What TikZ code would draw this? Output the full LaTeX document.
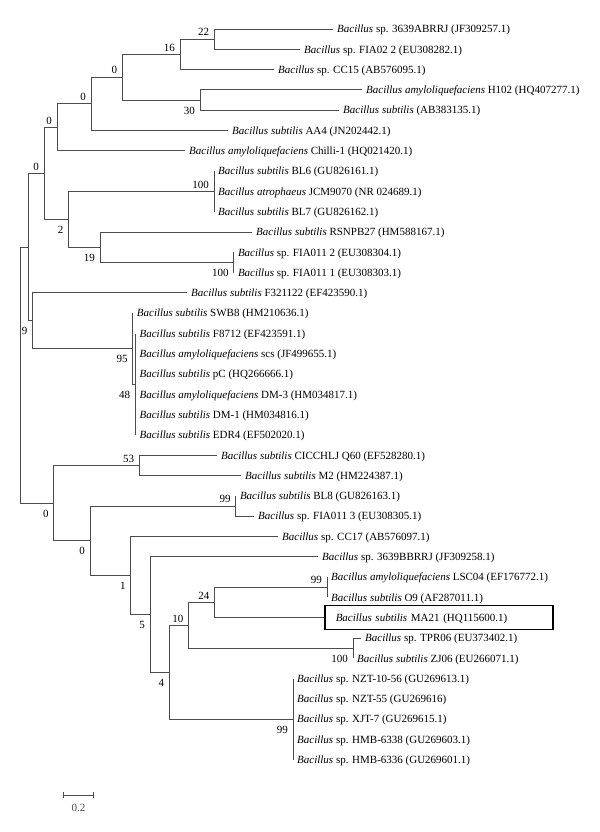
\documentclass[tikz,border=0pt]{standalone}
\usepackage{fontspec}
\setmainfont{Liberation Serif}
\usetikzlibrary{arrows.meta,positioning}

\begin{document}
\begin{tikzpicture}[x=1pt,y=-20.3pt,
    branch/.style={black!70,line width=0.9pt},
    leaf/.style={anchor=west,inner xsep=4pt,inner ysep=0pt,
      text height=9pt,text depth=1.5pt,font=\fontsize{11}{13}\selectfont},
    hilite/.style={leaf,draw=black,line width=1.5pt,inner xsep=11pt,
      inner ysep=6.75pt,text width=206pt,align=left},
    bsup/.style={anchor=south east,inner sep=1pt,xshift=-4pt,yshift=2pt,
      font=\fontsize{11}{13}\selectfont},
    bsdown/.style={anchor=north east,inner sep=1pt,xshift=-4pt,yshift=-5.5pt,
      font=\fontsize{11}{13}\selectfont}]
    \useasboundingbox (0,-0.4286) rectangle (600,40.557);

    % --- leaves: x of the branch end, row ---
    \foreach \i/\xx/\t in {
      1/333/{\textit{Bacillus} sp. 3639ABRRJ (JF309257.1)},
      2/300/{\textit{Bacillus} sp. FIA02 2 (EU308282.1)},
      3/274/{\textit{Bacillus} sp. CC15 (AB576095.1)},
      4/362/{\textit{Bacillus amyloliquefaciens} H102 (HQ407277.1)},
      5/339/{\textit{Bacillus subtilis} (AB383135.1)},
      6/228/{\textit{Bacillus subtilis} AA4 (JN202442.1)},
      7/185/{\textit{Bacillus amyloliquefaciens} Chilli-1 (HQ021420.1)},
      8/214/{\textit{Bacillus subtilis} BL6 (GU826161.1)},
      9/214/{\textit{Bacillus atrophaeus} JCM9070 (NR 024689.1)},
      10/214/{\textit{Bacillus subtilis} BL7 (GU826162.1)},
      11/252/{\textit{Bacillus subtilis} RSNPB27 (HM588167.1)},
      12/233.8/{\textit{Bacillus} sp. FIA011 2 (EU308304.1)},
      13/233.8/{\textit{Bacillus} sp. FIA011 1 (EU308303.1)},
      14/187/{\textit{Bacillus subtilis} F321122 (EF423590.1)},
      15/132.7/{\textit{Bacillus subtilis} SWB8 (HM210636.1)},
      16/135.4/{\textit{Bacillus subtilis} F8712 (EF423591.1)},
      17/135.4/{\textit{Bacillus amyloliquefaciens} scs (JF499655.1)},
      18/135.4/{\textit{Bacillus subtilis} pC (HQ266666.1)},
      19/135.4/{\textit{Bacillus amyloliquefaciens} DM-3 (HM034817.1)},
      20/135.4/{\textit{Bacillus subtilis} DM-1 (HM034816.1)},
      21/135.4/{\textit{Bacillus subtilis} EDR4 (EF502020.1)},
      22/217/{\textit{Bacillus subtilis} CICCHLJ Q60 (EF528280.1)},
      23/241/{\textit{Bacillus subtilis} M2 (HM224387.1)},
      24/235.8/{\textit{Bacillus subtilis} BL8 (GU826163.1)},
      25/254/{\textit{Bacillus} sp. FIA011 3 (EU308305.1)},
      26/278/{\textit{Bacillus} sp. CC17 (AB576097.1)},
      27/318/{\textit{Bacillus} sp. 3639BBRRJ (JF309258.1)},
      28/327/{\textit{Bacillus amyloliquefaciens} LSC04 (EF176772.1)},
      29/327/{\textit{Bacillus subtilis} O9 (AF287011.1)},
      31/361/{\textit{Bacillus} sp. TPR06 (EU373402.1)},
      32/353/{\textit{Bacillus subtilis} ZJ06 (EU266071.1)},
      33/293/{\textit{Bacillus} sp. NZT-10-56 (GU269613.1)},
      34/293/{\textit{Bacillus} sp. NZT-55 (GU269616)},
      35/293/{\textit{Bacillus} sp. XJT-7 (GU269615.1)},
      36/293/{\textit{Bacillus} sp. HMB-6338 (GU269603.1)},
      37/293/{\textit{Bacillus} sp. HMB-6336 (GU269601.1)}}
      \node[leaf] (l\i) at (\xx,\i) {\t};
    % the strain of this study
    \node[hilite] (l30) at (324,30) {\textit{Bacillus subtilis} MA21 (HQ115600.1)};

    % --- inner nodes ---
    \coordinate (root)  at (20,18.049);
    \coordinate (nup)   at (28.8,11.742);
    \coordinate (n0d)   at (44.2,8.109);
    \coordinate (n0c)   at (57,5.844);
    \coordinate (n0b)   at (91.2,4.688);
    \coordinate (n0a)   at (122.3,3.375);
    \coordinate (n16)   at (180,2.25);
    \coordinate (n22)   at (214.2,1.5);
    \coordinate (n30)   at (200,4.5);
    \coordinate (n2)    at (68.5,10.375);
    \coordinate (n100a) at (214,9);
    \coordinate (n19)   at (100,11.75);
    \coordinate (n100b) at (233.8,12.5);
    \coordinate (n9)    at (32.7,15.375);
    \coordinate (n95)   at (132.7,16.75);
    \coordinate (n48)   at (135.4,18.5);
    \coordinate (n0e)   at (53.8,24.355);
    \coordinate (n53)   at (139.2,22.5);
    \coordinate (n0f)   at (90,26.211);
    \coordinate (n99a)  at (235.8,24.5);
    \coordinate (n1)    at (130.8,27.922);
    \coordinate (n5)    at (150,29.844);
    \coordinate (n4)    at (169.2,32.688);
    \coordinate (n10)   at (188.5,30.375);
    \coordinate (n24)   at (214.6,29.25);
    \coordinate (n99b)  at (327,28.5);
    \coordinate (n100c) at (353,31.5);
    \coordinate (n99c)  at (293,35);

    % --- branches ---
    \foreach \p/\c in {root/nup, root/n0e, nup/n0d, nup/n9, n0d/n0c, n0d/n2,
      n0c/n0b, n0c/l7.west, n0b/n0a, n0b/l6.west, n0a/n16, n0a/n30,
      n16/n22, n16/l3.west, n22/l1.west, n22/l2.west, n30/l4.west, n30/l5.west,
      n2/n100a, n2/n19, n100a/l8.west, n100a/l10.west, n19/l11.west, n19/n100b,
      n100b/l12.west, n100b/l13.west, n9/l14.west, n9/n95, n95/l15.west, n95/n48,
      n48/l16.west, n48/l21.west, n0e/n53, n0e/n0f, n53/l22.west, n53/l23.west,
      n0f/n99a, n0f/n1, n99a/l24.west, n99a/l25.west, n1/l26.west, n1/n5,
      n5/l27.west, n5/n4, n4/n10, n4/n99c, n10/n24, n10/n100c,
      n24/n99b, n24/l30.west, n99b/l28.west, n99b/l29.west,
      n100c/l31.west, n100c/l32.west, n99c/l33.west, n99c/l37.west}
      \draw[branch] (\p) |- (\c);

    % --- bootstrap values ---
    \foreach \n/\v in {n22/22, n16/16, n0a/0, n0b/0, n0c/0, n0d/0, n100a/100,
      n53/53, n99a/99, n10/10, n24/24, n99b/99}
      \node[bsup] (b\n) at (\n) {\v};
    \foreach \n/\v in {n30/30, n2/2, n19/19, n100b/100, n9/9, n95/95, n48/48,
      n0e/0, n0f/0, n1/1, n5/5, n4/4, n100c/100, n99c/99}
      \node[bsdown] (b\n) at (\n) {\v};

    % scale bar
    \coordinate (sb0) at (62.7,38.75);
    \coordinate (sb1) at (94.2,38.75);
    \draw[branch,{Bar[width=6pt]}-{Bar[width=6pt]}] (sb0) -- (sb1)
      node[midway,below=5pt,font=\fontsize{11}{13}\selectfont] (sblab) {0.2};
\end{tikzpicture}
\end{document}
